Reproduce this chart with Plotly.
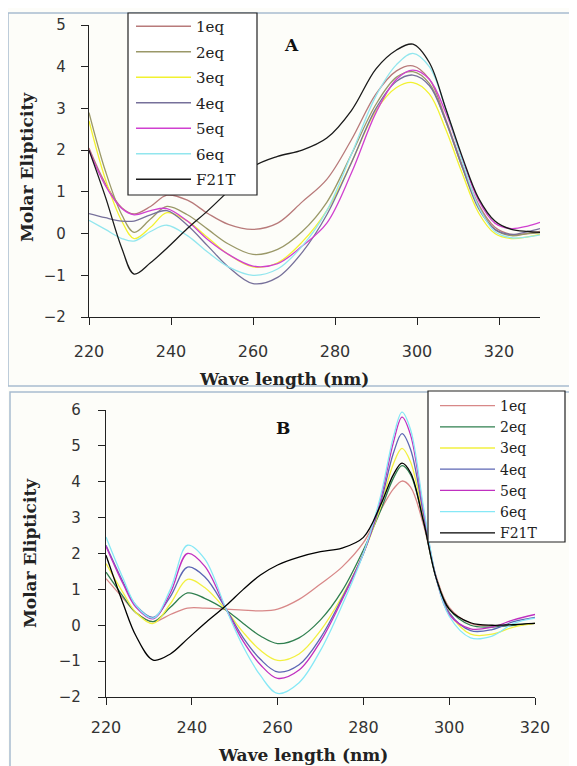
import plotly.graph_objects as go

W, H = 577, 766
OFF = 8  # page body margin offset

# ---------------- Panel A data ----------------
wl_A = [220, 224, 228, 231, 235, 239, 244, 249, 254, 260, 266, 272, 278, 284, 290, 295, 299, 303, 307, 311, 315, 319, 323, 327, 330]
A_1eq = [2.05, 1.2, 0.62, 0.47, 0.65, 0.92, 0.8, 0.48, 0.22, 0.1, 0.25, 0.76, 1.3, 2.25, 3.35, 3.9, 4.02, 3.7, 2.75, 1.65, 0.7, 0.15, -0.02, 0.0, 0.05]
A_2eq = [2.9, 1.5, 0.45, 0.03, 0.35, 0.65, 0.45, 0.1, -0.25, -0.5, -0.38, 0.05, 0.75, 1.9, 3.1, 3.75, 3.88, 3.6, 2.7, 1.6, 0.65, 0.1, -0.05, 0.0, 0.02]
A_3eq = [2.7, 1.3, 0.3, -0.12, 0.15, 0.5, 0.3, -0.1, -0.5, -0.8, -0.7, -0.2, 0.55, 1.7, 2.95, 3.5, 3.62, 3.35, 2.5, 1.45, 0.5, 0.0, -0.12, -0.08, -0.02]
A_4eq = [0.48, 0.38, 0.3, 0.3, 0.45, 0.55, 0.2, -0.3, -0.8, -1.2, -1.05, -0.45, 0.45, 1.7, 3.0, 3.65, 3.8, 3.55, 2.7, 1.6, 0.6, 0.1, -0.02, 0.05, 0.12]
A_5eq = [2.0, 1.15, 0.6, 0.45, 0.55, 0.6, 0.3, -0.15, -0.5, -0.78, -0.72, -0.3, 0.25, 1.45, 2.9, 3.7, 3.92, 3.7, 2.9, 1.8, 0.8, 0.25, 0.12, 0.18, 0.27]
A_6eq = [0.32, 0.1, -0.12, -0.18, 0.05, 0.2, -0.05, -0.45, -0.8, -1.0, -0.85, -0.3, 0.55, 1.9, 3.3, 4.05, 4.32, 4.0, 3.0, 1.75, 0.65, 0.05, -0.1, -0.08, -0.03]
A_F21T = [2.0, 0.88, -0.35, -0.97, -0.7, -0.35, 0.12, 0.55, 1.02, 1.6, 1.85, 2.0, 2.29, 2.95, 3.95, 4.4, 4.54, 4.1, 3.0, 1.85, 0.85, 0.3, 0.1, 0.05, 0.03]

# ---------------- Panel B data ----------------
wl_B = [220, 224, 227, 231, 235, 239, 243, 248, 252, 256, 260, 265, 270, 275, 280, 284, 287, 289, 291, 294, 297, 300, 305, 310, 315, 320]
B_1eq = [1.3, 0.75, 0.35, 0.1, 0.3, 0.48, 0.48, 0.45, 0.42, 0.4, 0.45, 0.72, 1.15, 1.62, 2.3, 3.2, 3.8, 4.02, 3.85, 2.8, 1.35, 0.5, 0.05, -0.02, 0.0, 0.05]
B_2eq = [1.48, 0.8, 0.35, 0.1, 0.5, 0.9, 0.75, 0.42, 0.05, -0.3, -0.51, -0.35, 0.15, 0.95, 2.1, 3.2, 4.1, 4.45, 4.2, 2.9, 1.3, 0.45, 0.0, -0.05, 0.0, 0.05]
B_3eq = [1.72, 0.9, 0.35, 0.05, 0.6, 1.28, 1.05, 0.42, -0.2, -0.7, -0.98, -0.8, -0.15, 0.8, 2.0, 3.3, 4.5, 4.93, 4.55, 3.0, 1.3, 0.35, -0.25, -0.25, -0.05, 0.05]
B_4eq = [2.23, 1.2, 0.55, 0.22, 0.8, 1.62, 1.35, 0.45, -0.35, -0.95, -1.3, -1.1, -0.35, 0.75, 2.0, 3.4, 4.8, 5.34, 4.9, 3.1, 1.3, 0.35, -0.15, -0.12, 0.1, 0.22]
B_5eq = [2.2, 1.15, 0.5, 0.18, 0.9, 2.0, 1.65, 0.45, -0.45, -1.1, -1.48, -1.25, -0.45, 0.7, 2.0, 3.5, 5.1, 5.8, 5.3, 3.2, 1.3, 0.3, -0.1, -0.05, 0.15, 0.3]
B_6eq = [2.46, 1.3, 0.55, 0.2, 1.0, 2.23, 1.85, 0.45, -0.6, -1.4, -1.9, -1.6, -0.7, 0.55, 2.0, 3.6, 5.25, 5.94, 5.45, 3.3, 1.3, 0.25, -0.35, -0.3, 0.05, 0.2]
B_F21T = [1.95, 0.6, -0.3, -0.97, -0.8, -0.38, 0.05, 0.55, 1.0, 1.4, 1.68, 1.9, 2.05, 2.15, 2.45, 3.35, 4.2, 4.52, 4.25, 2.9, 1.3, 0.45, 0.07, 0.0, 0.02, 0.05]

names = ["1eq", "2eq", "3eq", "4eq", "5eq", "6eq", "F21T"]
colors_A = ["#b87a7a", "#9a9868", "#f2f230", "#76709a", "#d040d0", "#92e6ee", "#1a1a1a"]
colors_B = ["#d88888", "#2f7f4f", "#f2f040", "#5c66b4", "#c030c0", "#86e8f6", "#000000"]

xticks_A = [220, 240, 260, 280, 300, 320]
xticks_B = [220, 240, 260, 280, 300, 320]
yticks_A = [-2, -1, 0, 1, 2, 3, 4, 5]
yticks_B = [-2, -1, 0, 1, 2, 3, 4, 5, 6]

series_A = [A_1eq, A_2eq, A_3eq, A_4eq, A_5eq, A_6eq, A_F21T]
series_B = [B_1eq, B_2eq, B_3eq, B_4eq, B_5eq, B_6eq, B_F21T]


def px(x):
    return (x - OFF) / W


def py(y):
    return 1 - (y - OFF) / H


fig = go.Figure()
for n, s, c in zip(names, series_A, colors_A):
    fig.add_trace(go.Scatter(x=wl_A, y=s, name=n, mode="lines", line=dict(color=c, width=1.3, shape="spline", smoothing=1.0),
                             xaxis="x", yaxis="y", legend="legend", legendgroup="A" + n))
for n, s, c in zip(names, series_B, colors_B):
    fig.add_trace(go.Scatter(x=wl_B, y=s, name=n, mode="lines", line=dict(color=c, width=1.3, shape="spline", smoothing=1.0),
                             xaxis="x2", yaxis="y2", legend="legend2", legendgroup="B" + n))

tickfont = dict(family="DejaVu Sans", size=16, color="#333333")
ytickfont = dict(family="DejaVu Sans", size=15, color="#333333")
axis_common = dict(showgrid=False, zeroline=False, showline=True, linecolor="#222222", linewidth=1.2,
                   ticks="outside", ticklen=7, tickcolor="#222222", tickwidth=1.2, automargin=False)

fig.update_layout(
    width=W, height=H,
    margin=dict(l=0, r=0, t=0, b=0, autoexpand=False),
    paper_bgcolor="#fdfdf9",
    plot_bgcolor="rgba(255,255,255,0)",
    xaxis=dict(domain=[px(89), px(540)], range=[220, 330], tickvals=xticks_A, tickfont=tickfont,
               anchor="y", ticklabelstandoff=13, **axis_common),
    yaxis=dict(domain=[py(317), py(25)], range=[-2, 5], tickvals=yticks_A, tickfont=ytickfont,
               anchor="x", ticklabelstandoff=12, **axis_common),
    xaxis2=dict(domain=[px(106), px(535)], range=[220, 320], tickvals=xticks_B, tickfont=tickfont,
                anchor="y2", ticklabelstandoff=9, **axis_common),
    yaxis2=dict(domain=[py(697), py(410)], range=[-2, 6], tickvals=yticks_B, tickfont=ytickfont,
                anchor="x2", ticklabelstandoff=14, **axis_common),
    legend=dict(x=px(131), y=py(10), xanchor="left", yanchor="top", bgcolor="rgba(0,0,0,0)",
                borderwidth=0, tracegroupgap=3,
                font=dict(family="DejaVu Serif", size=15, color="#222222"), itemwidth=55),
    legend2=dict(x=px(435), y=py(390), xanchor="left", yanchor="top", bgcolor="rgba(0,0,0,0)",
                 borderwidth=0, tracegroupgap=0,
                 font=dict(family="DejaVu Serif", size=14, color="#222222"), itemwidth=55),
    showlegend=True,
)

border = "#a8bccf"
# panel frames
fig.add_shape(type="rect", xref="paper", yref="paper", x0=px(8), x1=px(590), y0=py(386), y1=py(13),
              line=dict(color=border, width=1.5), fillcolor="rgba(0,0,0,0)", layer="below")
fig.add_shape(type="rect", xref="paper", yref="paper", x0=px(10), x1=px(573), y0=py(780), y1=py(392),
              line=dict(color=border, width=1.5), fillcolor="rgba(0,0,0,0)", layer="below")
# legend boxes
fig.add_shape(type="rect", xref="paper", yref="paper", x0=px(128), x1=px(257), y0=py(195), y1=py(13),
              line=dict(color="#222222", width=1.2), fillcolor="white", layer="above")
fig.add_shape(type="rect", xref="paper", yref="paper", x0=px(428), x1=px(565), y0=py(542), y1=py(391),
              line=dict(color="#222222", width=1.2), fillcolor="white", layer="above")

title_font = dict(family="DejaVu Serif", size=17, color="#222222")
common_ann = dict(xref="paper", yref="paper", showarrow=False, xanchor="center", yanchor="middle")
ann = [
    dict(text="<b>Wave length (nm)</b>", x=px(284), y=py(379), font=title_font, **common_ann),
    dict(text="<b>Molar Elipticity</b>", x=px(27), y=py(167), font=title_font, textangle=-90, **common_ann),
    dict(text="<b>Wave length (nm)</b>", x=px(303), y=py(755), font=title_font, **common_ann),
    dict(text="<b>Molar Elipticity</b>", x=px(30), y=py(553), font=title_font, textangle=-90, **common_ann),
    dict(text="<b>A</b>", x=px(291), y=py(45), font=dict(family="DejaVu Serif", size=17, color="#111111"), **common_ann),
    dict(text="<b>B</b>", x=px(283), y=py(428), font=dict(family="DejaVu Serif", size=17, color="#111111"), **common_ann),
]
fig.update_layout(annotations=ann)

fig.write_html("out.html")
